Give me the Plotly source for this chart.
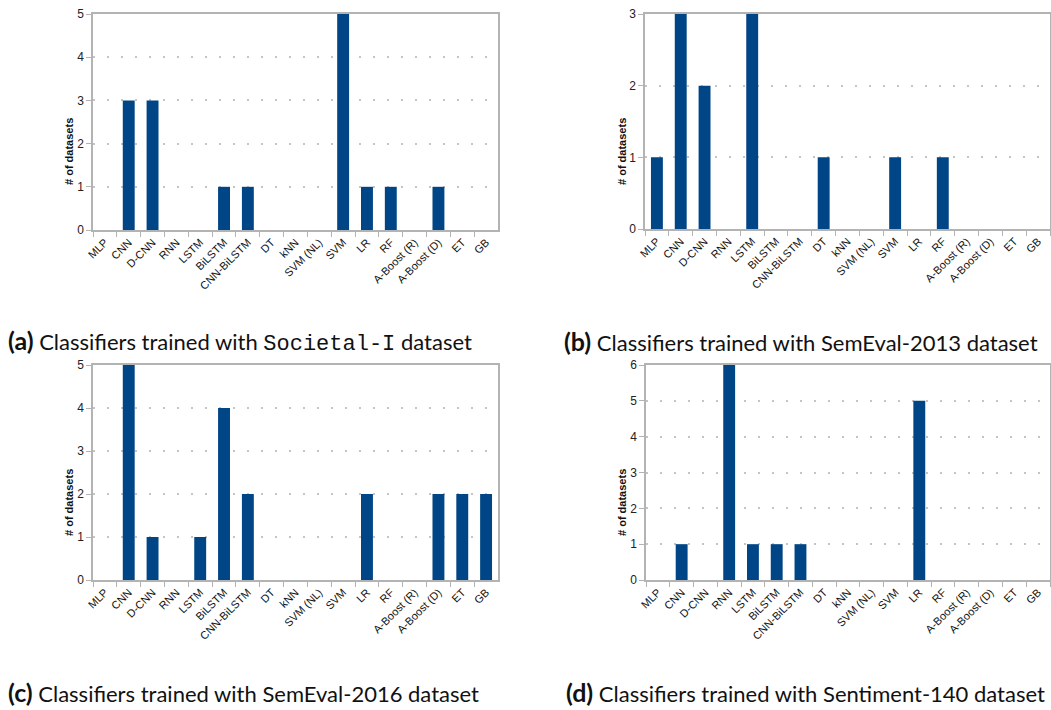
import plotly.graph_objects as go
from plotly.subplots import make_subplots

categories = ["MLP", "CNN", "D-CNN", "RNN", "LSTM", "BiLSTM", "CNN-BiLSTM", "DT", "kNN",
              "SVM (NL)", "SVM", "LR", "RF", "A-Boost (R)", "A-Boost (D)", "ET", "GB"]

societal_i   = [0, 3, 3, 0, 0, 1, 1, 0, 0, 0, 5, 1, 1, 0, 1, 0, 0]
semeval_2013 = [1, 3, 2, 0, 3, 0, 0, 1, 0, 0, 1, 0, 1, 0, 0, 0, 0]
semeval_2016 = [0, 5, 1, 0, 1, 4, 2, 0, 0, 0, 0, 2, 0, 0, 2, 2, 2]
sentiment140 = [0, 1, 0, 6, 1, 1, 1, 0, 0, 0, 0, 5, 0, 0, 0, 0, 0]

y_max = [5, 3, 5, 6]
captions = [
    ("(a)", "Classifiers trained with <span style='font-family:Liberation Mono'>Societal-I</span> dataset"),
    ("(b)", "Classifiers trained with SemEval-2013 dataset"),
    ("(c)", "Classifiers trained with SemEval-2016 dataset"),
    ("(d)", "Classifiers trained with Sentiment-140 dataset"),
]
y_title = "# of datasets"

W, H = 1051, 710
BAR = "#004586"
AX = "#b3b3b3"

# plot-area boxes in pixels: (left, right, top, bottom)
boxes = [(93, 498, 14, 230), (645, 1050, 14, 229), (93, 498, 365, 580), (646, 1050, 365, 580)]
ytitle_pos = [(69, 152), (622, 152), (69, 503), (622, 503)]
caption_pos = [(6, 341), (562, 341), (6, 692), (564, 692)]

fig = make_subplots(rows=2, cols=2)
series = [societal_i, semeval_2013, semeval_2016, sentiment140]

for i, vals in enumerate(series):
    r, c = i // 2 + 1, i % 2 + 1
    fig.add_trace(go.Bar(x=categories, y=vals, marker=dict(color=BAR, line=dict(width=0)),
                         showlegend=False), row=r, col=c)
    l, rt, t, b = boxes[i]
    ax_id = "" if i == 0 else str(i + 1)
    fig.layout["xaxis" + ax_id].update(
        domain=[l / W, rt / W], type="category", tickson="boundaries", range=[-0.5, 16.5],
        ticks="outside", ticklen=5, tickcolor=AX, showline=True, linecolor=AX, linewidth=1.5,
        mirror=True, showgrid=False, zeroline=False, automargin=False,
        showticklabels=True, tickangle=-45,
        tickfont=dict(family="Liberation Sans", size=11, color="#111111"))
    fig.layout["yaxis" + ax_id].update(
        domain=[1 - b / H, 1 - t / H], range=[0, y_max[i]], dtick=1, automargin=False,
        ticks="outside", ticklen=5, tickcolor=AX, showline=True, linecolor=AX, linewidth=1.5,
        mirror=True, showgrid=True, gridcolor="#c4c4c4", griddash="2px,12px", gridwidth=1.5,
        zeroline=False, tickfont=dict(family="Liberation Sans", size=12, color="#222222"))
    tx, ty = ytitle_pos[i]
    fig.add_annotation(x=tx / W, y=1 - ty / H, xref="paper", yref="paper", text="<b>" + y_title + "</b>",
                       textangle=-90, showarrow=False, xanchor="center", yanchor="middle",
                       font=dict(family="Liberation Sans", size=11, color="#111111"))
    cx, cy = caption_pos[i]
    lab, txt = captions[i]
    fig.add_annotation(x=cx / W, y=1 - cy / H, xref="paper", yref="paper",
                       text="<span style='font-size:25px'><b>" + lab + "</b></span> " + txt,
                       showarrow=False, xanchor="left", yanchor="middle",
                       font=dict(family="Lato", size=22, color="#111111"))

fig.update_layout(width=W, height=H, margin=dict(l=0, r=0, t=0, b=0, autoexpand=False),
                  plot_bgcolor="white", paper_bgcolor="white", bargap=0.5)

fig.write_html("out.html", config={"displayModeBar": False},
               post_script="document.body.style.margin='0';document.body.style.overflow='hidden';")
